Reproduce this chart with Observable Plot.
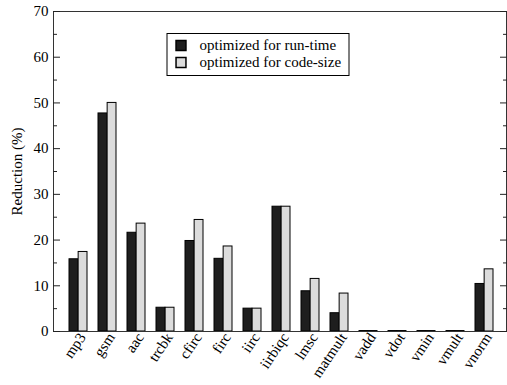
<!DOCTYPE html>
<html>
<head>
<meta charset="utf-8">
<script src="https://cdn.jsdelivr.net/npm/d3@7"></script>
<script src="https://cdn.jsdelivr.net/npm/@observablehq/plot@0.6"></script>
<style>
  html, body { margin: 0; padding: 0; background: white; }
  #chart { width: 507px; height: 385px; }
</style>
</head>
<body>
<div id="chart"></div>
<script>
const categories = ["mp3","gsm","aac","trcbk","cfirc","firc","iirc","iirbiqc","lmsc","matmult","vadd","vdot","vmin","vmult","vnorm"];
const runTime  = [15.8, 47.7, 21.6, 5.2, 19.8, 15.9, 5.0, 27.3, 8.8, 4.0, 0.1, 0.1, 0.1, 0.1, 10.4];
const codeSize = [17.4, 50.0, 23.6, 5.2, 24.4, 18.6, 5.0, 27.3, 11.5, 8.3, 0.1, 0.1, 0.1, 0.1, 13.6];
const seriesNames = ["optimized for run-time", "optimized for code-size"];
const majorTicks = [0, 10, 20, 30, 40, 50, 60, 70];
const minorTicks = [5, 15, 25, 35, 45, 55, 65];
const yLabel = "Reduction (%)";

const rows = categories.map((c, i) => ({category: c, run: runTime[i], code: codeSize[i]}));

const W = 507, H = 385, mL = 53, mR = 1, mT = 11, mB = 54;
const pIn = 0.376, pOut = 0.4165;
const step = (W - mL - mR) / (categories.length - pIn + 2 * pOut);
const bw = step * (1 - pIn);
const font = "'Liberation Serif', 'Times New Roman', serif";

const chart = Plot.plot({
  width: W, height: H,
  marginLeft: mL, marginRight: mR, marginTop: mT, marginBottom: mB,
  style: {fontFamily: font, fontSize: "15px", background: "white", color: "black"},
  x: {type: "band", domain: categories, paddingInner: pIn, paddingOuter: pOut, align: 0.56},
  y: {domain: [0, 70]},
  marks: [
    Plot.barY(rows, {x: "category", y: "run", fill: "#1e1e1e", stroke: "#000", strokeWidth: 1, insetRight: bw / 2}),
    Plot.barY(rows, {x: "category", y: "code", fill: "#dcdcdc", stroke: "#000", strokeWidth: 1, insetLeft: bw / 2}),
    Plot.frame({stroke: "#333", strokeWidth: 1}),
    Plot.axisY(majorTicks, {anchor: "left", tickSize: 0, tickPadding: 5, label: null, fontSize: 15}),
    Plot.axisY(majorTicks, {anchor: "left", tickSize: -7, tickFormat: () => "", label: null, stroke: "#222"}),
    Plot.axisY(minorTicks, {anchor: "left", tickSize: -4, tickFormat: () => "", label: null, stroke: "#222"}),
    Plot.axisY(majorTicks, {anchor: "right", tickSize: -7, tickFormat: () => "", label: null, stroke: "#222"}),
    Plot.axisY(minorTicks, {anchor: "right", tickSize: -4, tickFormat: () => "", label: null, stroke: "#222"}),
    Plot.axisX({tickSize: 0, tickRotate: -56, tickPadding: 3, dx: 4, label: null, fontSize: 15}),
    Plot.text([yLabel], {frameAnchor: "left", textAnchor: "middle", lineAnchor: "middle", rotate: -90, dx: -36, dy: 0, fontSize: 15}),
    // legend
    Plot.frame({stroke: "#000", strokeWidth: 1, fill: "white", insetLeft: 113.5, insetTop: 22, insetRight: 157.5, insetBottom: 256}),
    Plot.dot([0], {frameAnchor: "top-left", dx: 127.5, dy: 34, symbol: "square", r: 5.6, fill: "#1e1e1e", stroke: "#000"}),
    Plot.dot([0], {frameAnchor: "top-left", dx: 127.5, dy: 51, symbol: "square", r: 5.6, fill: "#dcdcdc", stroke: "#000"}),
    Plot.text([seriesNames[0]], {frameAnchor: "top-left", dx: 146, dy: 34, textAnchor: "start", lineAnchor: "middle", fontSize: 15}),
    Plot.text([seriesNames[1]], {frameAnchor: "top-left", dx: 146, dy: 51, textAnchor: "start", lineAnchor: "middle", fontSize: 15})
  ]
});
document.getElementById("chart").appendChild(chart);
</script>
</body>
</html>
